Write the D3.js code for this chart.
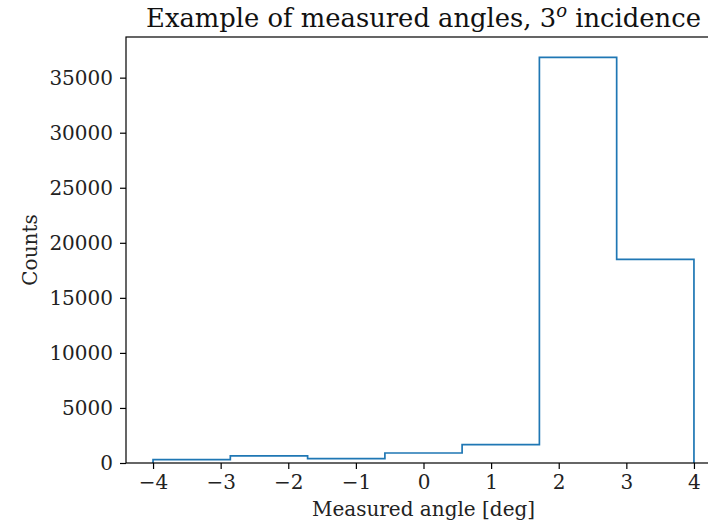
<!DOCTYPE html>
<html>
<head>
<meta charset="utf-8">
<script src="https://cdn.jsdelivr.net/npm/d3@7"></script>
<style>
  html, body { margin: 0; padding: 0; background: #fff; }
  svg { display: block; font-family: "DejaVu Serif", serif; }
</style>
</head>
<body>
<svg id="chart" width="708" height="525"></svg>
<script>
// ---- data ----
const binEdges = [-4, -2.857, -1.714, -0.571, 0.571, 1.714, 2.857, 4];
const counts = [310, 640, 400, 910, 1670, 36850, 18500];
const xTicks = [-4, -3, -2, -1, 0, 1, 2, 3, 4];
const yTicks = [0, 5000, 10000, 15000, 20000, 25000, 30000, 35000];
const titleMain = "Example of measured angles, 3";
const titleSup = "o";
const titleRest = " incidence";
const xLabel = "Measured angle [deg]";
const yLabel = "Counts";

// ---- layout ----
const W = 708, H = 525;
const mLeft = 126, mRight = 721, mTop = 37, mBottom = 463;
const svg = d3.select("#chart");

const xSpan = binEdges[binEdges.length - 1] - binEdges[0];
const x = d3.scaleLinear()
  .domain([binEdges[0] - 0.05 * xSpan, binEdges[binEdges.length - 1] + 0.05 * xSpan])
  .range([mLeft, mRight]);
const y = d3.scaleLinear()
  .domain([0, d3.max(counts) * 1.05])
  .range([mBottom, mTop]);

// histogram step path
const pts = [[binEdges[0], 0]];
counts.forEach((c, i) => {
  pts.push([binEdges[i], c]);
  pts.push([binEdges[i + 1], c]);
});
pts.push([binEdges[binEdges.length - 1], 0]);
const line = d3.line().x(d => x(d[0])).y(d => y(d[1]));
svg.append("path")
  .attr("d", line(pts))
  .attr("fill", "none")
  .attr("stroke", "#1f77b4")
  .attr("stroke-width", 1.7)
  .attr("stroke-linejoin", "miter");

// axes
const fmt = d3.format("d");
const xAxis = d3.axisBottom(x).tickValues(xTicks).tickSize(6).tickPadding(6)
  .tickFormat(d => (d < 0 ? "\u2212" + Math.abs(d) : String(d)));
const gx = svg.append("g").attr("transform", `translate(0,${mBottom})`).call(xAxis);
const yAxis = d3.axisLeft(y).tickValues(yTicks).tickSize(6).tickPadding(7).tickFormat(fmt);
const gy = svg.append("g").attr("transform", `translate(${mLeft},0)`).call(yAxis);
[gx, gy].forEach(g => {
  g.select(".domain").remove();
  g.selectAll(".tick line").attr("stroke", "#000").attr("stroke-width", 1.2);
  g.selectAll(".tick text").attr("fill", "#222").attr("font-size", 20)
    .attr("font-family", "DejaVu Serif");
});
gy.selectAll(".tick text").attr("dy", "0.34em");

// spines (frame)
svg.append("rect")
  .attr("x", mLeft).attr("y", mTop)
  .attr("width", mRight - mLeft).attr("height", mBottom - mTop)
  .attr("fill", "none").attr("stroke", "#000").attr("stroke-width", 1.2);

// labels
svg.append("text")
  .attr("x", (mLeft + mRight) / 2).attr("y", 516)
  .attr("text-anchor", "middle").attr("font-size", 20).attr("fill", "#222")
  .text(xLabel);
svg.append("text")
  .attr("transform", `translate(37,${(mTop + mBottom) / 2}) rotate(-90)`)
  .attr("text-anchor", "middle").attr("font-size", 20).attr("fill", "#222")
  .text(yLabel);

// title
const t = svg.append("text")
  .attr("x", (mLeft + mRight) / 2).attr("y", 27)
  .attr("text-anchor", "middle").attr("font-size", 25.8).attr("fill", "#111");
t.append("tspan").text(titleMain);
t.append("tspan").attr("font-size", 18).attr("font-style", "italic").attr("dy", -10).text(titleSup);
t.append("tspan").attr("dy", 10).text(titleRest);
</script>
</body>
</html>
